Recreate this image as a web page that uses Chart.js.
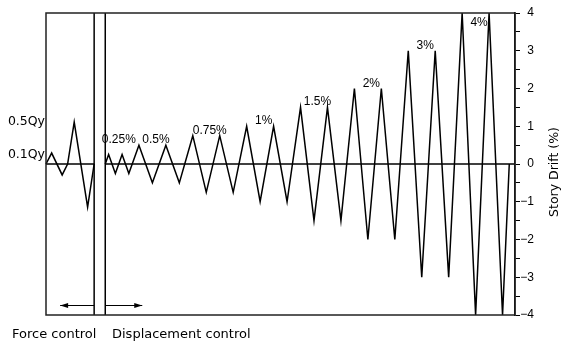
<!DOCTYPE html>
<html>
<head>
<meta charset="utf-8">
<script src="https://cdn.jsdelivr.net/npm/chart.js@4/dist/chart.umd.min.js"></script>
<style>
  html, body { margin: 0; padding: 0; background: #fff; }
  #c { display: block; }
</style>
</head>
<body>
<canvas id="c" width="561" height="343"></canvas>
<script>
// ---- Data ----
// Force-controlled stage: step index and story drift (%)
const forceSteps  = [6.2, 7.04, 8.6, 9.41, 10.39, 12.38, 13.35];
const forceDrift  = [0, 0.29, -0.29, 0, 1.11, -1.14, 0];
const forceLabels = ['0.1Qy', '0.5Qy'];           // labels for the force peaks
const forcePeakDrift = [0.29, 1.11];

// Displacement-controlled stage
const dispSteps = [15, 15.5, 16.5, 17.5, 18.5,
  20, 22, 24, 26, 28, 30, 32, 34, 36, 38, 40, 42, 44, 46, 48, 50,
  52, 54, 56, 58, 60, 62, 64, 66, 68, 70, 72, 74, 75];
const dispDrift = [0, 0.25, -0.25, 0.25, -0.25,
  0.5, -0.5, 0.5, -0.5, 0.75, -0.75, 0.75, -0.75, 1, -1, 1, -1, 1.5, -1.5, 1.5, -1.5,
  2, -2, 2, -2, 3, -3, 3, -3, 4, -4, 4, -4, 0];

// Amplitude labels of displacement cycles
const amplitudes      = [0.25, 0.5, 0.75, 1, 1.5, 2, 3, 4];
const amplitudeLabels = ['0.25%', '0.5%', '0.75%', '1%', '1.5%', '2%', '3%', '4%'];

// Boundary between the two control stages (step index)
const controlSwitch = [13.35, 15];
const stepRange = [6.2, 75.85];

// Y axis
const driftRange = [-4, 4];
const driftTickStep = 0.5;
const axisTitle = 'Story Drift (%)';
const stageLabels = ['Force control', 'Displacement control'];

// ---- Build datasets ----
const toXY = (xs, ys) => xs.map((x, i) => ({ x: x, y: ys[i] }));
const lineStyle = { borderColor: '#000', borderWidth: 1.5, pointRadius: 0, tension: 0, fill: false, clip: 3 };

const datasets = [
  Object.assign({ data: [{x: stepRange[0], y: 0}, {x: controlSwitch[0], y: 0}] }, lineStyle),
  Object.assign({ data: [{x: controlSwitch[1], y: 0}, {x: stepRange[1], y: 0}] }, lineStyle),
  Object.assign({ data: [{x: controlSwitch[0], y: driftRange[0]}, {x: controlSwitch[0], y: driftRange[1]}] }, lineStyle),
  Object.assign({ data: [{x: controlSwitch[1], y: driftRange[0]}, {x: controlSwitch[1], y: driftRange[1]}] }, lineStyle),
  Object.assign({ data: toXY(forceSteps, forceDrift) }, lineStyle),
  Object.assign({ data: toXY(dispSteps, dispDrift) }, lineStyle)
];

// ---- Decorations plugin ----
const deco = {
  id: 'deco',
  beforeDraw(chart) {
    const ctx = chart.ctx;
    ctx.save();
    ctx.fillStyle = '#fff';
    ctx.fillRect(0, 0, chart.width, chart.height);
    ctx.restore();
  },
  afterDraw(chart) {
    const ctx = chart.ctx;
    const a = chart.chartArea;
    const xs = chart.scales.x, ys = chart.scales.y;
    ctx.save();
    // frame
    ctx.strokeStyle = '#222';
    ctx.lineWidth = 1.5;
    ctx.strokeRect(a.left, a.top, a.right - a.left, a.bottom - a.top);

    // arrows
    const x1 = xs.getPixelForValue(controlSwitch[0]);
    const x2 = xs.getPixelForValue(controlSwitch[1]);
    const ay = a.bottom - 9.5;
    function arrow(from, to) {
      ctx.strokeStyle = '#000';
      ctx.lineWidth = 1;
      ctx.beginPath();
      ctx.moveTo(from, ay); ctx.lineTo(to, ay); ctx.stroke();
      const d = to > from ? 1 : -1;
      ctx.fillStyle = '#000';
      ctx.beginPath();
      ctx.moveTo(to, ay);
      ctx.lineTo(to - d * 8, ay - 2.5);
      ctx.lineTo(to - d * 8, ay + 2.5);
      ctx.closePath(); ctx.fill();
    }
    arrow(x1, x1 - 34);
    arrow(x2, x2 + 37);

    // amplitude labels (between the two peaks of each amplitude)
    ctx.fillStyle = '#000';
    ctx.font = '12px "Liberation Sans", Arial, sans-serif';
    ctx.textAlign = 'center';
    ctx.textBaseline = 'alphabetic';
    amplitudes.forEach((amp, k) => {
      const peaks = [];
      dispDrift.forEach((v, i) => { if (v === amp) peaks.push(dispSteps[i]); });
      const mid = (peaks[0] + peaks[1]) / 2;
      const px = xs.getPixelForValue(mid) + 3.5;
      let py = ys.getPixelForValue(Math.max(amp, 0.5)) - 2;
      if (py < a.top + 13) py = a.top + 13;
      ctx.fillText(amplitudeLabels[k], px, py);
    });

    // force stage labels
    ctx.font = '12.5px "DejaVu Sans", sans-serif';
    ctx.textAlign = 'right';
    ctx.textBaseline = 'middle';
    forceLabels.forEach((t, k) => {
      ctx.fillText(t, a.left - 1, ys.getPixelForValue(forcePeakDrift[k]) + (k === 0 ? 2 : 0));
    });

    // stage labels under the chart
    ctx.font = '13px "DejaVu Sans", sans-serif';
    ctx.textAlign = 'left';
    ctx.textBaseline = 'alphabetic';
    ctx.fillText(stageLabels[0], 12, a.bottom + 23);
    ctx.fillText(stageLabels[1], 112, a.bottom + 23);

    // right axis title (reads bottom to top)
    ctx.font = '12.5px "DejaVu Sans", sans-serif';
    ctx.textAlign = 'center';
    ctx.textBaseline = 'middle';
    ctx.translate(555, (a.top + a.bottom) / 2 + 8);
    ctx.rotate(-Math.PI / 2);
    ctx.fillText(axisTitle, 0, 0);
    ctx.restore();
  }
};

new Chart(document.getElementById('c'), {
  type: 'line',
  data: { datasets: datasets },
  options: {
    responsive: false,
    animation: false,
    events: [],
    layout: { padding: { left: 46, top: 13, bottom: 28, right: 27 } },
    plugins: { legend: { display: false }, tooltip: { enabled: false } },
    scales: {
      x: { type: 'linear', display: false, min: stepRange[0], max: stepRange[1] },
      y: {
        position: 'right',
        min: driftRange[0], max: driftRange[1],
        afterFit(scale) { scale.width = 19; },
        grid: { drawOnChartArea: false, drawTicks: true, tickLength: 5, color: '#000', lineWidth: 1 },
        border: { display: true, color: '#000', width: 1.5 },
        ticks: {
          stepSize: driftTickStep,
          autoSkip: false,
          padding: 1,
          crossAlign: 'far',
          color: '#000',
          font: { family: '"Liberation Sans", Arial, sans-serif', size: 12 },
          callback(v) {
            if (!Number.isInteger(v)) return '';
            return v < 0 ? '\u2212' + Math.abs(v) : String(v);
          }
        }
      }
    }
  },
  plugins: [deco]
});
</script>
</body>
</html>
